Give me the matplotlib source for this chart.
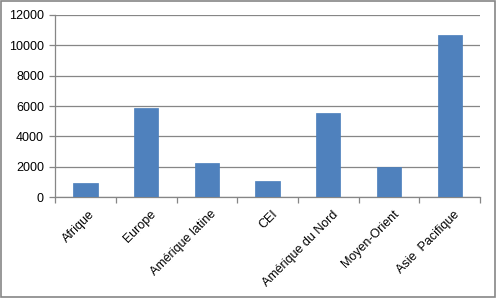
import matplotlib.pyplot as plt
import numpy as np

# Data
regions = ["Afrique", "Europe", "Amérique latine", "CEI", "Amérique du Nord",
           "Moyen-Orient", "Asie  Pacifique"]
values = [950, 5850, 2250, 1080, 5550, 2000, 10650]
yticks = [0, 2000, 4000, 6000, 8000, 10000, 12000]

plt.rcParams['font.family'] = ['Liberation Sans', 'DejaVu Sans']

fig = plt.figure(figsize=(4.96, 2.98), dpi=100)
ax = fig.add_axes([0.111, 0.338, 0.857, 0.612])

x = np.arange(len(regions))
ax.bar(x, values, width=0.4, color="#4F81BD", edgecolor="#4A7EBB", linewidth=0.5, zorder=3)

ax.set_xlim(-0.5, len(regions) - 0.5)
ax.set_ylim(0, 12000)
ax.set_yticks(yticks)
ax.set_yticklabels([str(v) for v in yticks], fontsize=9)
ax.yaxis.grid(True, color="#868686", linewidth=0.9, zorder=0)

# category ticks at boundaries, labels at centers
ax.set_xticks(np.arange(len(regions) + 1) - 0.5)
ax.set_xticklabels([])
ax.set_xticks(x + 0.06, minor=True)
ax.set_xticklabels(regions, minor=True, rotation=45, ha="right",
                   rotation_mode="anchor", fontsize=9)
ax.tick_params(axis="x", which="major", length=4, color="#868686", width=0.9)
ax.tick_params(axis="x", which="minor", length=0, pad=8)
ax.tick_params(axis="y", length=4, color="#868686", width=0.9, pad=4)

for side in ["top", "right"]:
    ax.spines[side].set_visible(False)
for side in ["left", "bottom"]:
    ax.spines[side].set_color("#868686")
    ax.spines[side].set_linewidth(0.9)

# outer chart border
fig.patches.append(plt.Rectangle((0.002, 0.003), 0.996, 0.994, transform=fig.transFigure,
                                 fill=False, edgecolor="#868686", linewidth=1.2))

fig.savefig("out.png", dpi=100)
